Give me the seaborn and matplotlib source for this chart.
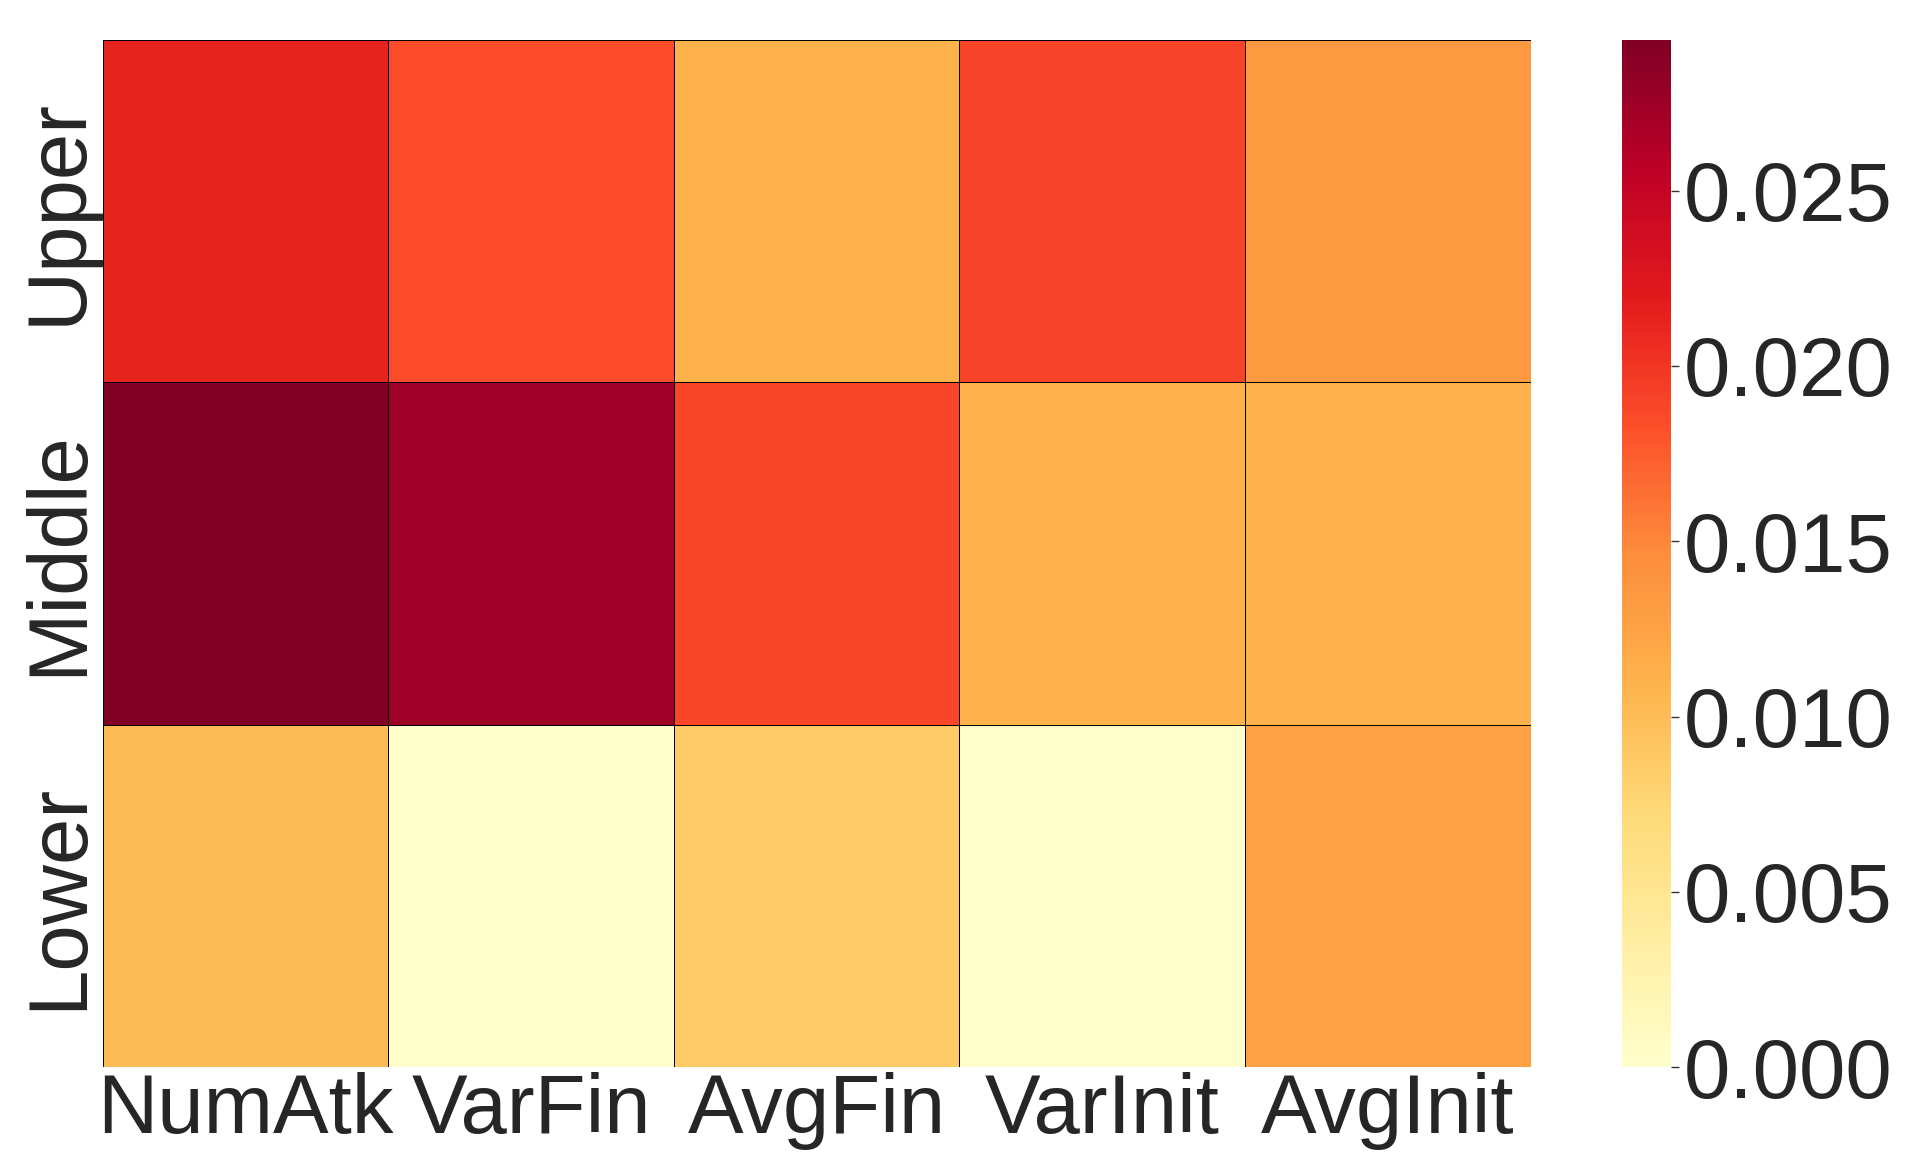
import matplotlib
matplotlib.use("Agg")
import matplotlib.pyplot as plt
import numpy as np
import pandas as pd
import seaborn as sns

features = ["NumAtk", "VarFin", "AvgFin", "VarInit", "AvgInit"]
tiers = ["Upper", "Middle", "Lower"]
upper = [0.0214, 0.0185, 0.0110, 0.0190, 0.0135]
middle = [0.0293, 0.0274, 0.0188, 0.0110, 0.0110]
lower = [0.0103, 0.0000, 0.0088, 0.0000, 0.0127]
cbar_ticks = [0.000, 0.005, 0.010, 0.015, 0.020, 0.025]

sns.set_theme(style="white")
plt.rcParams["font.family"] = ["Liberation Sans", "DejaVu Sans"]

df = pd.DataFrame([upper, middle, lower], index=tiers, columns=features)

fig = plt.figure(figsize=(19.24, 11.74), dpi=100)
ax = fig.add_axes([0.0535, 0.091, 0.742, 0.875])
cax = fig.add_axes([0.843, 0.091, 0.0255, 0.875])

sns.heatmap(df, ax=ax, cbar_ax=cax, cmap="YlOrRd", vmin=0, vmax=max(middle),
            linewidths=0.5, linecolor="black")

ax.tick_params(axis="both", length=0, labelsize=60)
ax.set_yticklabels(tiers, rotation=90, va="center")
ax.set_xticklabels(features, rotation=0)
ax.set_xlabel("")
ax.set_ylabel("")

cbar = ax.collections[0].colorbar
cbar.set_ticks(cbar_ticks)
cbar.set_ticklabels([f"{t:.3f}" for t in cbar_ticks])
cbar.ax.tick_params(labelsize=60, length=6, width=1, right=True, color="#333333")
cbar.outline.set_visible(False)

fig.savefig("out.png", dpi=100)
